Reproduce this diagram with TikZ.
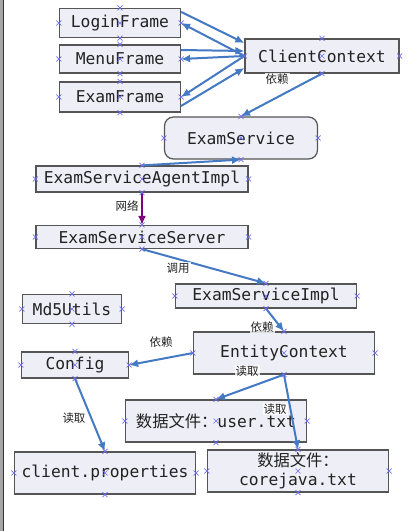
\documentclass[tikz,border=0pt]{standalone}
\usepackage{fontspec}
\setmonofont{DejaVu Sans Mono}
\newfontfamily\cjk{Noto Sans CJK SC}
\usetikzlibrary{arrows.meta}
\definecolor{boxbg}{HTML}{EEEEF6}
\definecolor{boxline}{HTML}{555555}
\definecolor{textdark}{HTML}{222222}
\definecolor{linkblue}{HTML}{4479C4}
\definecolor{netpurple}{HTML}{800080}
\definecolor{markblue}{HTML}{6E6EF0}
\newcommand{\anchormarks}[1]{%
  \foreach \a in {north,south,east,west,center}
    \draw[xmark] ([shift={(-2.5pt,-2.5pt)}]#1.\a) -- ++(5pt,5pt)
                 ([shift={(-2.5pt,2.5pt)}]#1.\a) -- ++(5pt,-5pt);}

\begin{document}
\begin{tikzpicture}[
      x=1pt, y=-1pt,
      box/.style={draw=boxline, line width=1.2pt, fill=boxbg, text=textdark,
                  inner sep=0pt, align=center,
                  font=\ttfamily\fontsize{16.3}{19}\selectfont},
      lbl/.style={font=\cjk\fontsize{11.5}{13}\selectfont, text=textdark,
                  fill=white, fill opacity=0.8, text opacity=1, inner sep=1pt},
      link/.style={draw=linkblue, line width=2pt,
                   -{Latex[length=9pt,width=8pt]}},
      netlink/.style={draw=netpurple, line width=2pt,
                      -{Latex[length=9pt,width=8pt]}},
      xmark/.style={draw=markblue, line width=0.6pt},
    ]
    \useasboundingbox (0,0) rectangle (408,531);
    \fill[white] (0,0) rectangle (408,531);
    \fill[gray!70] (0,0) rectangle (3,531);
    \draw[gray!40!black, line width=1pt] (3.5,0) -- (3.5,531);

    % client side
    \node[box, minimum width=121pt, minimum height=29pt] (login) at (120,23) {LoginFrame};
    \node[box, minimum width=121pt, minimum height=28pt] (menu) at (120,59) {MenuFrame};
    \node[box, minimum width=121pt, minimum height=30pt] (exam) at (120,97) {ExamFrame};
    \node[box, minimum width=154pt, minimum height=34pt] (ctx) at (322,56) {ClientContext};
    \node[box, rounded corners=9pt, minimum width=153pt, minimum height=42pt] (svc) at (241,138) {ExamService};
    \node[box, minimum width=212pt, minimum height=26pt] (agent) at (142,179) {ExamServiceAgentImpl};

    % server side
    \node[box, minimum width=212pt, minimum height=23pt] (server) at (142,237) {ExamServiceServer};
    \node[box, minimum width=181pt, minimum height=24pt] (impl) at (266,296) {ExamServiceImpl};
    \node[box, minimum width=99pt, minimum height=29pt] (md5) at (72,309) {Md5Utils};
    \node[box, minimum width=181pt, minimum height=42pt] (entity) at (284,353) {EntityContext};
    \node[box, minimum width=107pt, minimum height=26pt] (config) at (75,365) {Config};
    \node[box, minimum width=181pt, minimum height=42pt] (user) at (216,421)
      {{\cjk 数据文件：}user.txt};
    \node[box, minimum width=181pt, minimum height=42pt] (props) at (105,473) {client.properties};
    \node[box, minimum width=181pt, minimum height=42pt] (core) at (298,471)
      {{\cjk 数据文件：}\\corejava.txt};

    % frames <-> context
    \draw[link] ([yshift=-4pt]login.north east) -- ([yshift=13pt]ctx.west);
    \draw[link] (ctx.west) -- (login.east);
    \draw[link] ([yshift=9pt]menu.east) -- ([yshift=5pt]ctx.west);
    \draw[link] (ctx.west) -- (menu.east);
    \draw[link] (ctx.west) -- (exam.east);
    \draw[link] ([yshift=-9pt]exam.east) -- ([yshift=-12pt]ctx.west);

    \draw[link] (ctx.south) -- (svc.north);
    \draw[link] (agent.north) -- (svc.south);
    \draw[netlink] (agent.south) -- (server.north);
    \draw[link] (server.south) -- (impl.north);
    \draw[link] (impl.south) -- (entity.north);
    \draw[link] (entity.west) -- (config.east);
    \draw[link] (entity.south) -- (user.north);
    \draw[link] (entity.south) -- (core.north);
    \draw[link] (config.south) -- (props.north);

    % labels
    \node[lbl] (l1) at (277,79) {依赖};
    \node[lbl] (l2) at (127,206) {网络};
    \node[lbl] (l3) at (178,268) {调用};
    \node[lbl] (l4) at (262,327) {依赖};
    \node[lbl] (l5) at (161,342) {依赖};
    \node[lbl] (l6) at (247,371) {读取};
    \node[lbl] (l7) at (275,409) {读取};
    \node[lbl] (l8) at (74,418) {读取};

    \foreach \n in {login,menu,exam,ctx,svc,agent,server,impl,md5,entity,config,user,props,core}
      {\anchormarks{\n}}
  \end{tikzpicture}
\end{document}
